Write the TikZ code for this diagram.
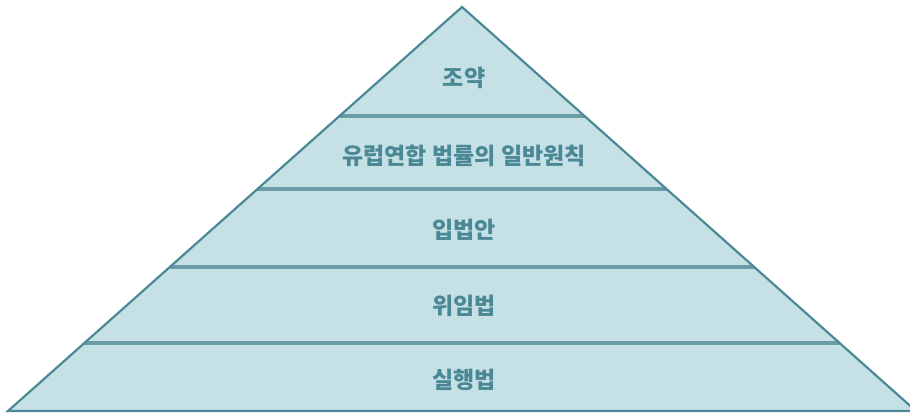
\documentclass[tikz,border=0pt]{standalone}
\usepackage{fontspec}
\newfontfamily\krfont{Noto Sans CJK KR}
\usepackage{xcolor}
\usepackage{tikz}
\usetikzlibrary{positioning,calc}

\definecolor{pyrfill}{HTML}{C6E1E6}
\definecolor{pyredge}{HTML}{4A8A96}
\definecolor{pyrsep}{HTML}{6A9DA7}
\definecolor{pyrtext}{HTML}{4B8895}

\begin{document}
\begin{tikzpicture}[
    x=1pt, y=-1pt,
    layer/.style={font=\krfont\bfseries\fontsize{23}{27}\selectfont, text=pyrtext, inner sep=0pt},
    sep/.style={draw=pyrsep, line width=4.5pt},
    outline/.style={draw=pyredge, line width=2.2pt, line join=miter}
]
\useasboundingbox (0,0) rectangle (910,414);
% pyramid body
\coordinate (top) at (462,7);
\coordinate (bl) at (8,411);
\coordinate (br) at (916,411);
\fill[pyrfill] (top) -- (br) -- (bl) -- cycle;
% separators between the levels
\begin{scope}
    \clip (top) -- (br) -- (bl) -- cycle;
    \foreach \y in {116,189,267,343}
        \draw[sep] (0,\y) -- (920,\y);
\end{scope}
\draw[outline] (top) -- (br) -- (bl) -- cycle;
% level labels
\node[layer] (treaty) at (464,78) {조약};
\node[layer] (principles) at (464,156) {유럽연합 법률의 일반원칙};
\node[layer] (legislative) at (464,230) {입법안};
\node[layer] (delegated) at (464,306) {위임법};
\node[layer] (implementing) at (464,380) {실행법};
\end{tikzpicture}
\end{document}
